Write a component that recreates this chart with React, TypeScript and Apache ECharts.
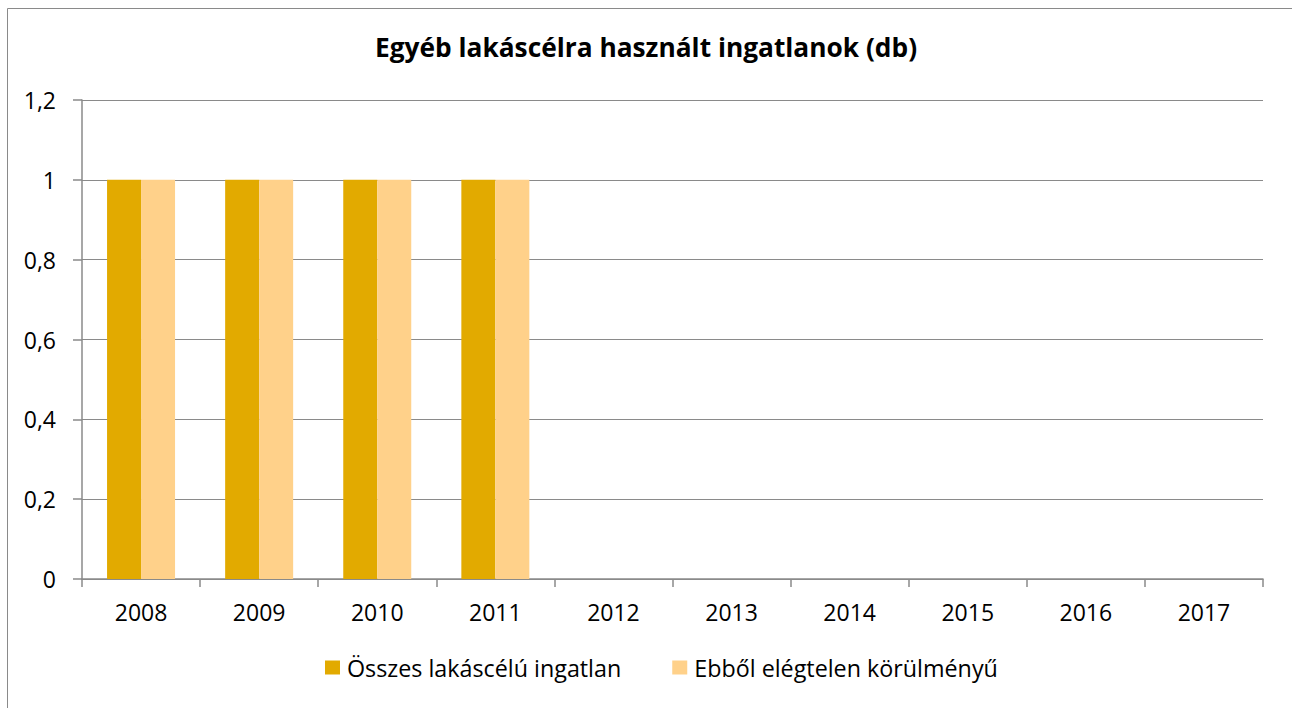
import React, { useEffect, useRef } from "react";
import * as echarts from "echarts";

const categories = ["2008", "2009", "2010", "2011", "2012", "2013", "2014", "2015", "2016", "2017"];
const seriesNames = ["Összes lakáscélú ingatlan", "Ebből elégtelen körülményű"];
const totalValues = [1, 1, 1, 1, 0, 0, 0, 0, 0, 0];
const inadequateValues = [1, 1, 1, 1, 0, 0, 0, 0, 0, 0];
const titleText = "Egyéb lakáscélra használt ingatlanok (db)";

const FONT = "'Open Sans', sans-serif";
const GREY = "#8a8a8a";

export default function App() {
  const ref = useRef<HTMLDivElement>(null);
  useEffect(() => {
    document.body.style.margin = "0";
    const chart = echarts.init(ref.current!, null, { renderer: "svg" });
    chart.setOption({
      animation: false,
      backgroundColor: "#ffffff",
      title: {
        text: titleText,
        left: "center",
        top: 29,
        textStyle: { fontFamily: FONT, fontWeight: "bold", fontSize: 26.3, color: "#000" },
      },
      graphic: [
        {
          type: "rect",
          shape: { x: 7.5, y: 8.5, width: 1300, height: 720 },
          style: { fill: "none", stroke: GREY, lineWidth: 1 },
          silent: true,
        },
      ],
      legend: {
        bottom: 24,
        left: 320,
        itemWidth: 15,
        itemHeight: 14,
        itemGap: 51,
        icon: "rect",
        textStyle: { fontFamily: FONT, fontSize: 23.3, color: "#000", padding: [0, 0, 0, 2] },
        data: seriesNames,
      },
      grid: { left: 82, top: 100, right: 29, bottom: 129, containLabel: false },
      xAxis: {
        type: "category",
        data: categories,
        axisLine: { lineStyle: { color: GREY, width: 1.5 } },
        axisTick: { show: true, length: 8, lineStyle: { color: GREY, width: 1.5 } },
        axisLabel: { fontFamily: FONT, fontSize: 23, color: "#000", margin: 21 },
      },
      yAxis: {
        type: "value",
        min: 0,
        max: 1.2,
        interval: 0.2,
        axisLine: { show: true, lineStyle: { color: GREY, width: 1.5 } },
        axisTick: { show: true, length: 9, lineStyle: { color: GREY, width: 1.5 } },
        splitLine: { lineStyle: { color: GREY, width: 1 } },
        axisLabel: {
          fontFamily: FONT,
          fontSize: 23,
          color: "#000",
          margin: 26,
          formatter: (v: number) => String(Math.round(v * 10) / 10).replace(".", ","),
        },
      },
      series: [
        {
          name: seriesNames[0],
          type: "bar",
          data: totalValues,
          barWidth: 34,
          barGap: "0%",
          itemStyle: { color: "#E2AA00" },
        },
        {
          name: seriesNames[1],
          type: "bar",
          data: inadequateValues,
          barWidth: 34,
          barGap: "0%",
          itemStyle: { color: "#FFD18A" },
        },
      ],
    });
    return () => chart.dispose();
  }, []);
  return <div ref={ref} style={{ width: 1292, height: 708 }} />;
}
